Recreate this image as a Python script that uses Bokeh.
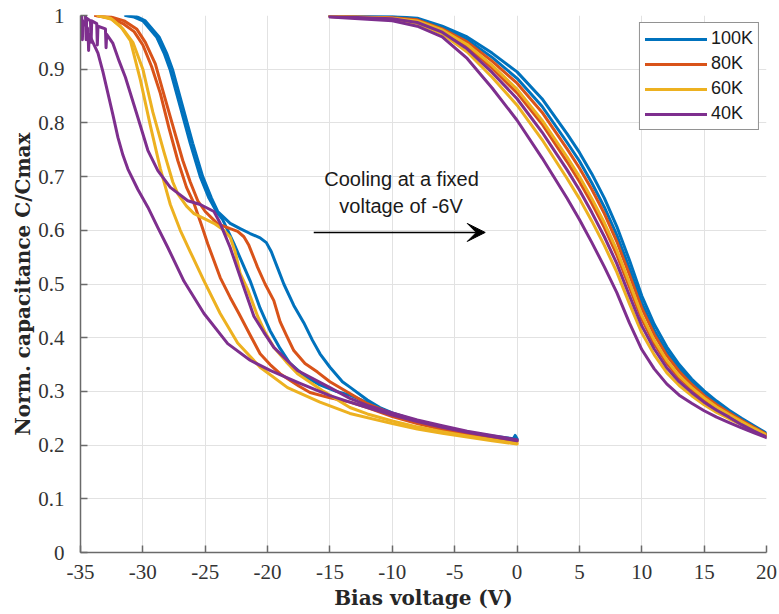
from bokeh.plotting import figure
from bokeh.models import (Range1d, FixedTicker, Legend, LegendItem, Label,
                          Arrow, VeeHead)
from bokeh.embed import file_html
from bokeh.resources import INLINE

# ---- axes ---------------------------------------------------------------
x_ticks = [-35, -30, -25, -20, -15, -10, -5, 0, 5, 10, 15, 20]
x_tick_labels = ["-35", "-30", "-25", "-20", "-15", "-10", "-5", "0", "5", "10", "15", "20"]
y_ticks = [0, 0.1, 0.2, 0.3, 0.4, 0.5, 0.6, 0.7, 0.8, 0.9, 1.0]
y_tick_labels = ["0", "0.1", "0.2", "0.3", "0.4", "0.5", "0.6", "0.7", "0.8", "0.9", "1"]

temperatures = ["100K", "80K", "60K", "40K"]
colors = ["#0072BD", "#D95319", "#EDB120", "#7E2F8E"]

# ---- left sweep branch (bias voltage, normalized capacitance) -----------
v_100K_a = [-31.3, -30.5, -29.8, -28.7, -28.1, -27.6, -26.8, -26.0, -25.2, -24.5, -24.0, -23.0,
            -22.2, -21.4, -20.6, -20.1, -19.7, -19.2, -18.7, -17.9, -17.1, -16.4, -15.8, -15.0,
            -14.0, -13.4, -12.0, -11.0, -10.0, -8.0, -6.0, -4.0, -2.0, -0.3, -0.15, 0.0]
c_100K_a = [1.0, 0.998, 0.99, 0.96, 0.93, 0.898, 0.83, 0.762, 0.70, 0.66, 0.635, 0.613,
            0.603, 0.594, 0.586, 0.577, 0.56, 0.53, 0.50, 0.46, 0.428, 0.395, 0.37, 0.345,
            0.318, 0.308, 0.284, 0.27, 0.26, 0.245, 0.233, 0.224, 0.217, 0.212, 0.218, 0.212]
v_100K_b = [-31.4, -30.7, -30.0, -28.9, -28.3, -27.8, -27.0, -26.2, -25.4, -24.7, -24.1, -23.6,
            -22.7, -21.4, -20.6, -19.8, -19.0, -18.2, -17.0, -15.8, -14.5, -13.4, -12.0, -10.0,
            -8.0, -6.0, -4.0, -2.0, 0.0]
c_100K_b = [1.0, 0.997, 0.99, 0.96, 0.93, 0.898, 0.83, 0.762, 0.70, 0.66, 0.635, 0.62,
            0.575, 0.506, 0.455, 0.413, 0.38, 0.352, 0.328, 0.312, 0.30, 0.293, 0.279, 0.258,
            0.243, 0.231, 0.222, 0.215, 0.21]

v_80K_a = [-33.8, -32.5, -31.5, -30.5, -29.8, -29.0, -28.4, -27.6, -26.8, -26.2, -25.6, -25.0,
           -24.0, -23.0, -22.4, -21.9, -21.5, -20.8, -20.2, -19.5, -19.0, -18.5, -17.9, -17.0,
           -16.0, -15.0, -13.4, -12.0, -10.0, -8.0, -6.0, -4.0, -2.0, 0.0]
c_80K_a = [1.0, 0.997, 0.99, 0.975, 0.95, 0.91, 0.86, 0.795, 0.73, 0.69, 0.655, 0.635,
           0.612, 0.603, 0.598, 0.588, 0.572, 0.531, 0.50, 0.469, 0.43, 0.405, 0.376, 0.352,
           0.336, 0.318, 0.296, 0.277, 0.258, 0.245, 0.233, 0.223, 0.215, 0.208]
v_80K_b = [-33.8, -32.6, -31.6, -30.7, -30.0, -29.3, -28.6, -27.9, -27.2, -26.5, -25.9, -25.3,
           -24.8, -23.8, -23.0, -22.3, -21.4, -20.6, -19.8, -19.0, -17.5, -16.6, -15.0, -13.4,
           -12.0, -10.0, -8.0, -6.0, -4.0, -2.0, 0.0]
c_80K_b = [1.0, 0.995, 0.985, 0.97, 0.945, 0.905, 0.855, 0.79, 0.73, 0.68, 0.65, 0.61,
           0.575, 0.512, 0.475, 0.445, 0.405, 0.37, 0.35, 0.333, 0.31, 0.298, 0.288, 0.28,
           0.27, 0.253, 0.24, 0.229, 0.22, 0.212, 0.206]

v_60K_a = [-33.6, -32.6, -31.8, -31.0, -30.2, -29.4, -28.6, -27.8, -27.0, -26.2, -25.1, -23.8,
           -22.4, -20.6, -18.4, -15.8, -13.4, -10.0, -8.0, -6.0, -4.0, -2.0, 0.0]
c_60K_a = [1.0, 0.995, 0.98, 0.953, 0.88, 0.795, 0.715, 0.648, 0.60, 0.56, 0.506, 0.445,
           0.39, 0.345, 0.307, 0.28, 0.259, 0.24, 0.23, 0.222, 0.215, 0.208, 0.202]
v_60K_b = [-33.6, -32.5, -31.6, -30.8, -30.0, -29.2, -28.3, -27.6, -27.2, -26.5, -25.9, -24.3,
           -23.5, -23.0, -22.6, -22.2, -21.6, -20.8, -20.2, -19.5, -18.5, -17.6, -15.5, -13.4,
           -12.0, -10.0, -8.0, -6.0, -4.0, -2.0, 0.0]
c_60K_b = [1.0, 0.993, 0.975, 0.95, 0.90, 0.82, 0.745, 0.69, 0.668, 0.645, 0.631, 0.613,
           0.60, 0.587, 0.56, 0.52, 0.49, 0.44, 0.41, 0.382, 0.355, 0.333, 0.30, 0.27,
           0.258, 0.245, 0.234, 0.225, 0.217, 0.21, 0.203]

v_40K_a = [-34.9, -34.85, -34.8, -34.4, -34.35, -34.3, -33.9, -33.6, -33.2, -32.8, -32.4, -32.0,
           -31.6, -31.2, -30.4, -29.6, -28.8, -28.0, -26.7, -25.1, -23.2, -21.4, -19.8, -17.4,
           -15.0, -13.4, -12.0, -10.0, -8.0, -6.0, -4.0, -2.0, 0.0]
c_40K_a = [1.0, 0.955, 0.99, 0.975, 0.935, 0.965, 0.945, 0.93, 0.895, 0.855, 0.815, 0.773,
           0.74, 0.714, 0.676, 0.643, 0.605, 0.568, 0.505, 0.445, 0.389, 0.358, 0.339, 0.315,
           0.292, 0.28, 0.27, 0.256, 0.244, 0.233, 0.224, 0.216, 0.208]
v_40K_b = [-34.6, -34.55, -34.5, -34.2, -34.15, -34.1, -33.7, -33.65, -33.6, -33.0, -32.95, -32.9,
           -32.4, -31.9, -31.4, -30.4, -29.6, -28.8, -27.8, -26.4, -25.4, -24.3, -23.8, -23.0,
           -22.0, -21.1, -20.3, -19.5, -17.6, -15.0, -13.4, -12.0, -10.0, -8.0, -6.0, -4.0,
           -2.0, 0.0]
c_40K_b = [1.0, 0.955, 0.995, 0.99, 0.95, 0.99, 0.985, 0.945, 0.98, 0.975, 0.94, 0.965,
           0.948, 0.915, 0.885, 0.81, 0.749, 0.711, 0.68, 0.655, 0.648, 0.635, 0.613, 0.568,
           0.50, 0.44, 0.41, 0.382, 0.339, 0.307, 0.287, 0.274, 0.26, 0.247, 0.236, 0.226,
           0.218, 0.21]

# ---- right sweep branch (common bias grid) -------------------------------
v_right = [-15, -10, -8, -6, -4, -2, 0, 2, 4, 5, 6, 7, 8, 9, 10, 11, 12, 13, 14, 15, 16, 17, 18, 19, 20]
c_100K_r1 = [1.0, 0.998, 0.995, 0.98, 0.96, 0.93, 0.895, 0.845, 0.78, 0.745, 0.705, 0.66, 0.607,
             0.545, 0.478, 0.425, 0.383, 0.35, 0.323, 0.301, 0.282, 0.265, 0.25, 0.236, 0.222]
c_100K_r2 = [1.0, 0.997, 0.993, 0.977, 0.955, 0.922, 0.883, 0.831, 0.764, 0.729, 0.688, 0.643, 0.591,
             0.53, 0.465, 0.414, 0.374, 0.343, 0.317, 0.296, 0.278, 0.262, 0.248, 0.234, 0.221]
c_80K_r1 = [0.999, 0.996, 0.992, 0.975, 0.951, 0.915, 0.874, 0.82, 0.752, 0.716, 0.676, 0.631, 0.579,
            0.518, 0.455, 0.406, 0.367, 0.337, 0.313, 0.292, 0.275, 0.26, 0.246, 0.233, 0.22]
c_80K_r2 = [0.999, 0.995, 0.989, 0.971, 0.943, 0.902, 0.856, 0.798, 0.728, 0.691, 0.65, 0.605, 0.554,
            0.495, 0.435, 0.389, 0.353, 0.325, 0.304, 0.285, 0.269, 0.255, 0.242, 0.23, 0.219]
c_60K_r1 = [0.999, 0.995, 0.99, 0.973, 0.946, 0.907, 0.863, 0.805, 0.737, 0.70, 0.659, 0.614, 0.563,
            0.503, 0.442, 0.395, 0.358, 0.329, 0.307, 0.288, 0.271, 0.257, 0.244, 0.231, 0.219]
c_60K_r2 = [0.998, 0.992, 0.985, 0.966, 0.932, 0.885, 0.833, 0.769, 0.697, 0.659, 0.617, 0.572, 0.522,
            0.464, 0.409, 0.368, 0.335, 0.311, 0.292, 0.275, 0.261, 0.249, 0.238, 0.227, 0.216]
c_40K_r1 = [0.998, 0.994, 0.987, 0.969, 0.938, 0.894, 0.845, 0.783, 0.713, 0.675, 0.633, 0.588, 0.538,
            0.479, 0.422, 0.379, 0.344, 0.318, 0.298, 0.28, 0.265, 0.252, 0.238, 0.226, 0.215]
c_40K_r2 = [0.997, 0.99, 0.98, 0.96, 0.92, 0.865, 0.805, 0.735, 0.66, 0.62, 0.577, 0.532, 0.484,
            0.428, 0.378, 0.342, 0.314, 0.293, 0.278, 0.264, 0.252, 0.242, 0.232, 0.223, 0.214]

left_sweeps = [
    [(v_100K_a, c_100K_a), (v_100K_b, c_100K_b)],
    [(v_80K_a, c_80K_a), (v_80K_b, c_80K_b)],
    [(v_60K_a, c_60K_a), (v_60K_b, c_60K_b)],
    [(v_40K_a, c_40K_a), (v_40K_b, c_40K_b)],
]
right_sweeps = [
    [c_100K_r1, c_100K_r2],
    [c_80K_r1, c_80K_r2],
    [c_60K_r1, c_60K_r2],
    [c_40K_r1, c_40K_r2],
]

SERIF = "Liberation Serif"
SANS = "Liberation Sans"
INK = "#262626"

p = figure(width=779, height=614, output_backend="svg", toolbar_location=None,
           x_range=Range1d(-35, 20), y_range=Range1d(0, 1),
           min_border_left=80, min_border_right=13, min_border_top=15, min_border_bottom=62)
p.outline_line_color = None
p.background_fill_color = "white"
p.border_fill_color = "white"

# grid
for g in (p.xgrid, p.ygrid):
    g.grid_line_color = "#e2e2e2"
    g.grid_line_width = 1

# axes
p.xaxis.ticker = FixedTicker(ticks=x_ticks)
p.yaxis.ticker = FixedTicker(ticks=y_ticks)
p.xaxis.major_label_overrides = dict(zip(x_ticks, x_tick_labels))
p.yaxis.major_label_overrides = dict(zip(y_ticks, y_tick_labels))
for ax in (p.xaxis[0], p.yaxis[0]):
    ax.axis_line_color = "#6a6a6a"
    ax.axis_line_width = 1.5
    ax.major_tick_line_color = "#6a6a6a"
    ax.major_tick_line_width = 1.5
    ax.major_tick_in = 7
    ax.major_tick_out = 0
    ax.minor_tick_line_color = None
    ax.major_label_text_font = SERIF
    ax.major_label_text_font_size = "21px"
    ax.major_label_text_color = "#333333"
    ax.axis_label_text_font = "DejaVu Serif"
    ax.axis_label_text_font_style = "bold"
    ax.axis_label_text_font_size = "20px"
    ax.axis_label_text_color = INK
p.xaxis.axis_label = "Bias voltage (V)"
p.yaxis.axis_label = "Norm. capacitance C/Cmax"
p.xaxis.major_label_standoff = 12
p.xaxis.axis_label_standoff = 4
p.yaxis.major_label_standoff = 16
p.yaxis.axis_label_standoff = 0

# curves
legend_renderers = []
for color, left, right in zip(colors, left_sweeps, right_sweeps):
    first = None
    for v, c in left:
        r = p.line(v, c, line_color=color, line_width=3, line_join="round", line_cap="round")
        first = first or r
    for c in right:
        p.line(v_right, c, line_color=color, line_width=3, line_join="round", line_cap="round")
    legend_renderers.append(first)

# annotation: cooling direction
p.add_layout(Label(x=-9.26, y=0.695, text="Cooling at a fixed", text_align="center",
                   text_baseline="middle", text_font=SANS, text_font_size="20px",
                   text_color="#1a1a1a"))
p.add_layout(Label(x=-9.3, y=0.646, text="voltage of -6V", text_align="center",
                   text_baseline="middle", text_font=SANS, text_font_size="20px",
                   text_color="#1a1a1a"))
p.add_layout(Arrow(end=VeeHead(size=18, fill_color="black", line_color="black"),
                   x_start=-16.3, y_start=0.596, x_end=-2.55, y_end=0.596,
                   line_color="black", line_width=1.5))

legend = Legend(items=[LegendItem(label=t, renderers=[r])
                       for t, r in zip(temperatures, legend_renderers)],
                location="top_right", margin=7, padding=5, spacing=4,
                glyph_width=62, glyph_height=20, label_height=20, label_standoff=4,
                label_text_font=SANS, label_text_font_size="18px", label_text_color="#1a1a1a",
                border_line_color=INK, border_line_width=1, background_fill_alpha=1)
p.add_layout(legend)

open("out.html", "w").write(file_html(p, INLINE))
